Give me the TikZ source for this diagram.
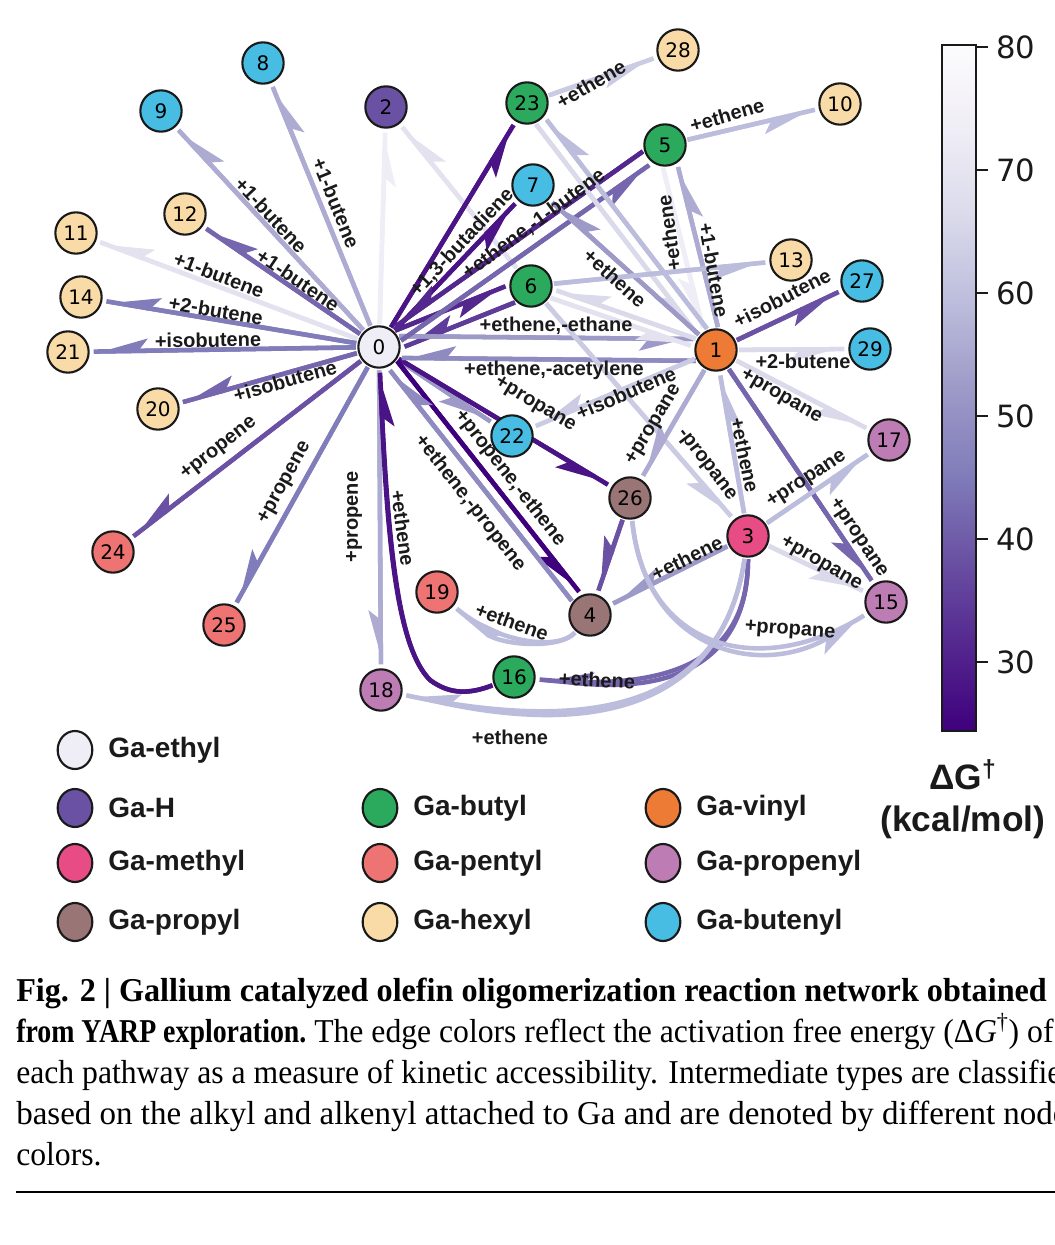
\documentclass[tikz,border=0pt]{standalone}
\usepackage{fontspec}
\setmainfont{Liberation Sans}
\newfontfamily\numfont{DejaVu Sans}
\newfontfamily\capfont{Liberation Serif}[FakeStretch=0.95]
\newfontfamily\capbold{Liberation Serif}[FakeStretch=0.966]
\usetikzlibrary{arrows.meta,shapes.geometric}
\pgfdeclarelayer{bg}
\pgfsetlayers{bg,main}
% edge colours (Purples)
\definecolor{c1}{HTML}{3F007D}
\definecolor{c2}{HTML}{4A1486}
\definecolor{c3}{HTML}{54278F}
\definecolor{c4}{HTML}{5F3C99}
\definecolor{c5}{HTML}{6A51A3}
\definecolor{c6}{HTML}{7566AE}
\definecolor{c7}{HTML}{807DBA}
\definecolor{c8}{HTML}{8F8BC1}
\definecolor{c9}{HTML}{9E9AC8}
\definecolor{c10}{HTML}{ADABD2}
\definecolor{c11}{HTML}{BCBDDC}
\definecolor{c12}{HTML}{CBCBE3}
\definecolor{c13}{HTML}{DADAEB}
\definecolor{c14}{HTML}{E4E2EF}
\definecolor{c15}{HTML}{EFEDF5}
\definecolor{cbtop}{HTML}{FCFBFD}
% node colours
\definecolor{ethyl}{HTML}{EFEDF5}
\definecolor{gah}{HTML}{6A51A3}
\definecolor{methyl}{HTML}{E84C84}
\definecolor{propyl}{HTML}{9A7575}
\definecolor{butyl}{HTML}{2BAA5E}
\definecolor{pentyl}{HTML}{EE7474}
\definecolor{hexyl}{HTML}{F9DBA8}
\definecolor{vinyl}{HTML}{ED7B35}
\definecolor{propenyl}{HTML}{BE7CB4}
\definecolor{butenyl}{HTML}{47BDE4}
\definecolor{ink}{HTML}{1A1A1A}
\pgfdeclareverticalshading{cbar}{100bp}{color(0bp)=(c1); color(25bp)=(c1); color(31.25bp)=(c3); color(37.5bp)=(c5); color(43.75bp)=(c7); color(50bp)=(c9); color(56.25bp)=(c11); color(62.5bp)=(c13); color(68.75bp)=(c15); color(75bp)=(cbtop); color(100bp)=(cbtop)}
\tikzset{
  nd/.style={circle, draw=ink, line width=1.6pt, minimum size=31pt, inner sep=0pt,
    font=\numfont\fontsize{15}{15}\selectfont},
  E/.style={line width=3.4pt, shorten >=3pt, shorten <=1pt},
  A/.style={postaction={draw,-{Stealth[harpoon,swap,length=34pt,width=18pt,inset=7pt]}}},
  lbl/.style={font=\bfseries\fontsize{15}{15}\selectfont, inner sep=0pt, text=ink},
  lg/.style={ellipse, draw=ink, line width=1.6pt, minimum width=26pt, minimum height=28.5pt, inner sep=0pt},
  lgt/.style={anchor=west, font=\bfseries\fontsize{21}{21}\selectfont, inner sep=0pt, text=ink},
  captext/.style={anchor=base west, inner sep=0pt, font=\capfont\fontsize{25}{30}\selectfont},
}
\begin{document}
\begin{tikzpicture}[x=0.75pt,y=-0.75pt]
\useasboundingbox (0,0) rectangle (1055,1245);
% nodes
\node[nd, fill=ethyl] (n0) at (379,347) {0};
\node[nd, fill=vinyl] (n1) at (716,350) {1};
\node[nd, fill=gah] (n2) at (386,107) {2};
\node[nd, fill=methyl] (n3) at (748,536) {3};
\node[nd, fill=propyl] (n4) at (590,615) {4};
\node[nd, fill=butyl] (n5) at (665,145) {5};
\node[nd, fill=butyl] (n6) at (531,286) {6};
\node[nd, fill=butenyl] (n7) at (533,185) {7};
\node[nd, fill=butenyl] (n8) at (263,63) {8};
\node[nd, fill=butenyl] (n9) at (161,111) {9};
\node[nd, fill=hexyl] (n10) at (840,104) {10};
\node[nd, fill=hexyl] (n11) at (76,233) {11};
\node[nd, fill=hexyl] (n12) at (185,214) {12};
\node[nd, fill=hexyl] (n13) at (791,260) {13};
\node[nd, fill=hexyl] (n14) at (81,297) {14};
\node[nd, fill=propenyl] (n15) at (886,602) {15};
\node[nd, fill=butyl] (n16) at (514,677) {16};
\node[nd, fill=propenyl] (n17) at (889,440) {17};
\node[nd, fill=propenyl] (n18) at (381,690) {18};
\node[nd, fill=pentyl] (n19) at (437,592) {19};
\node[nd, fill=hexyl] (n20) at (158,409) {20};
\node[nd, fill=hexyl] (n21) at (68,352) {21};
\node[nd, fill=butenyl] (n22) at (512,436) {22};
\node[nd, fill=butyl] (n23) at (527,103) {23};
\node[nd, fill=pentyl] (n24) at (113,552) {24};
\node[nd, fill=pentyl] (n25) at (224,625) {25};
\node[nd, fill=propyl] (n26) at (630,498) {26};
\node[nd, fill=butenyl] (n27) at (862,281) {27};
\node[nd, fill=hexyl] (n28) at (678,50) {28};
\node[nd, fill=butenyl] (n29) at (870,349) {29};
% edges
\begin{pgfonlayer}{bg}
\draw[E,A,c10] (n0) -- (n8);
\draw[E,A,c10] (n0) -- (n9);
\draw[E,A,c15] (n0) -- (n2);
\draw[E,A,c14] (n6) -- (n2);
\draw[E,A,c6] (n0) -- (n12);
\draw[E,A,c14] (n0) -- (n11);
\draw[E,A,c7] (n0) -- (n14);
\draw[E,A,c7] (n0) -- (n21);
\draw[E,A,c6] (n0) -- (n20);
\draw[E,A,c5] (n0) -- (n24);
\draw[E,A,c7] (n0) -- (n25);
\draw[E,A,c10] (n0) -- (n18);
\draw[E,A,c9] (n0) -- (n22);
\draw[E,A,c2] (n0) -- (n26);
\draw[E,A,c2] (n0) -- (n23);
\draw[E,A,c2] (n0) -- (n7);
\draw[E,A,c1] (n0.-37) -- (n4.113);
\draw[E,A,c8] (n4.143) -- (n0.-67);
\draw[E,A,c3] (n0.47) -- (n6.177);
\draw[E,A,c4] (n6.227) -- (n0.-3);
\draw[E,A,c9] (n0.30) -- (n1.150);
\draw[E,A,c8] (n1.210) -- (n0.-30);
\draw[E,A,c6] (n0.15) -- (n5.235);
\draw[E,A,c3] (n5.195) -- (n0.55);
\draw[E,A,c10] (n1.84) -- (n5.304);
\draw[E,A,c15] (n5.264) -- (n1.124);
\draw[E,A,c13] (n23.-68) -- (n1.142);
\draw[E,A,c11] (n1.112) -- (n23.-38);
\draw[E,A,c9] (n1) -- (n7);
\draw[E,A,c13] (n1.150) -- (n6.-8);
\draw[E,A,c14] (n6.-32) -- (n1.172);
\draw[E,A,c11] (n6) -- (n13);
\draw[E,A,c12] (n1) -- (n22);
\draw[E,A,c12] (n6) -- (n3);
\draw[E,A,c10] (n1) -- (n26);
\draw[E,A,c5] (n26) -- (n4);
\draw[E,A,c5] (n1) -- (n27);
\draw[E,A,c13] (n1) -- (n29);
\draw[E,A,c13] (n1) -- (n17);
\draw[E,A,c6] (n1) -- (n15);
\draw[E,A,c11] (n3) -- (n1);
\draw[E,A,c11] (n3) -- (n17);
\draw[E,A,c13] (n3) -- (n15);
\draw[E,A,c9] (n3) -- (n4);
\draw[E,A,c11] (n5) -- (n10);
\draw[E,A,c12] (n23) -- (n28);
\draw[E,A,c2] (n16) .. controls (470,694) and (450,695) .. (430,680) .. controls (400,650) and (388,560) .. (n0);
\draw[E,A,c6] (n3) .. controls (748,640) and (700,695) .. (n16);
\draw[E,A,c11] (n3) .. controls (725,690) and (620,740) .. (n18);
\draw[E,A,c11] (n26) .. controls (645,650) and (760,680) .. (n15);
\draw[E,A,c11] (n4) .. controls (560,650) and (500,645) .. (n19);
\end{pgfonlayer}
% edge labels
\node[lbl, rotate=-68] (l1) at (336,203) {+1-butene};
\node[lbl, rotate=-47] (l2) at (271,215) {+1-butene};
\node[lbl, rotate=-34] (l3) at (298,280) {+1-butene};
\node[lbl, rotate=-21] (l4) at (219,275) {+1-butene};
\node[lbl, rotate=-9.5] (l5) at (216,310) {+2-butene};
\node[lbl, rotate=1] (l6) at (208,340) {+isobutene};
\node[lbl, rotate=16] (l7) at (285,381) {+isobutene};
\node[lbl, rotate=38] (l8) at (219,449) {+propene};
\node[lbl, rotate=61] (l9) at (285,483) {+propene};
\node[lbl, rotate=90] (l10) at (354,517) {+propene};
\node[lbl, rotate=-82] (l11) at (403,528) {+ethene};
\node[lbl, rotate=-52] (l12) at (470,503) {+ethene,-propene};
\node[lbl, rotate=-52] (l13) at (510,478) {+propene,-ethene};
\node[lbl, rotate=-31] (l14) at (535,405) {+propane};
\node[lbl] (l15) at (554,370) {+ethene,-acetylene};
\node[lbl] (l16) at (556,326) {+ethene,-ethane};
\node[lbl, rotate=46.5] (l17) at (462,243) {+1,3-butadiene};
\node[lbl, rotate=36.5] (l18) at (534,224) {+ethene,-1-butene};
\node[lbl, rotate=-42] (l19) at (615,278) {+ethene};
\node[lbl, rotate=98] (l20) at (669,233) {+ethene};
\node[lbl, rotate=-80] (l21) at (714,270) {+1-butene};
\node[lbl, rotate=27] (l22) at (782,298) {+isobutene};
\node[lbl] (l23) at (803,361) {+2-butene};
\node[lbl, rotate=-30] (l24) at (781,397) {+propane};
\node[lbl, rotate=-56] (l25) at (858,538) {+propane};
\node[lbl, rotate=-78] (l26) at (745,455) {+ethene};
\node[lbl, rotate=-52.5] (l27) at (706,465) {-propane};
\node[lbl, rotate=59] (l28) at (654,425) {+propane};
\node[lbl, rotate=33] (l29) at (807,480) {+propane};
\node[lbl, rotate=-30] (l30) at (821,564) {+propane};
\node[lbl, rotate=26] (l31) at (687,558) {+ethene};
\node[lbl, rotate=-4] (l32) at (790,631) {+propane};
\node[lbl, rotate=-20] (l33) at (512,622) {+ethene};
\node[lbl, rotate=-3] (l34) at (597,680) {+ethene};
\node[lbl] (l35) at (510,737) {+ethene};
\node[lbl, rotate=23] (l36) at (626,393) {+isobutene};
\node[lbl, rotate=16] (l37) at (727,115) {+ethene};
\node[lbl, rotate=30] (l38) at (591,84) {+ethene};
% colour bar
\shade[shading=cbar] (942,45) rectangle (976,731);
\draw[line width=1.6pt, ink] (942,45) rectangle (976,731);
\foreach \v/\y in {80/47,70/170,60/293,50/416,40/539,30/662}{
  \draw[line width=1.4pt, ink] (976,\y) -- (988,\y);
  \node[anchor=west, inner sep=0pt, font=\numfont\fontsize{23}{23}\selectfont, text=ink] (t\v) at (996,\y) {\v};
}
\node[font=\bfseries\fontsize{26.5}{26.5}\selectfont, text=ink, inner sep=0pt] (dg) at (963,775) {ΔG\textsuperscript{†}};
\node[font=\bfseries\fontsize{26.5}{26.5}\selectfont, text=ink, inner sep=0pt] (un) at (963,822) {(kcal/mol)};
% legend
\node[lg, fill=ethyl] (g1) at (75,750) {};   \node[lgt] (g1t) at (108,750) {Ga-ethyl};
\node[lg, fill=gah] (g2) at (75,808) {};     \node[lgt] (g2t) at (108,808) {Ga-H};
\node[lg, fill=methyl] (g3) at (75,863) {};  \node[lgt] (g3t) at (108,863) {Ga-methyl};
\node[lg, fill=propyl] (g4) at (75,922) {};  \node[lgt] (g4t) at (108,922) {Ga-propyl};
\node[lg, fill=butyl] (g5) at (380,808) {};  \node[lgt] (g5t) at (413,808) {Ga-butyl};
\node[lg, fill=pentyl] (g6) at (380,863) {}; \node[lgt] (g6t) at (413,863) {Ga-pentyl};
\node[lg, fill=hexyl] (g7) at (380,922) {};  \node[lgt] (g7t) at (413,922) {Ga-hexyl};
\node[lg, fill=vinyl] (g8) at (663,808) {};  \node[lgt] (g8t) at (696,808) {Ga-vinyl};
\node[lg, fill=propenyl] (g9) at (663,863) {}; \node[lgt] (g9t) at (696,863) {Ga-propenyl};
\node[lg, fill=butenyl] (g10) at (663,922) {}; \node[lgt] (g10t) at (696,922) {Ga-butenyl};
% caption
\begin{scope}
\clip (0,0) rectangle (1055,1245);
\node[captext] (cp1) at (16,1001) {\capbold\bfseries Fig. 2 | Gallium catalyzed olefin oligomerization reaction network obtained};
\node[captext] (cp2) at (16,1042) {\scalebox{0.865}[1]{\capbold\bfseries from YARP exploration.} The edge colors reflect the activation free energy (Δ\textit{G}\textsuperscript{†}) of};
\node[captext] (cp3) at (16,1083) {each pathway as a measure of kinetic accessibility. Intermediate types are classified};
\node[captext] (cp4) at (16,1124) {\scalebox{1.042}[1]{based on the alkyl and alkenyl attached to Ga and are denoted by different node}};
\node[captext] (cp5) at (16,1165) {colors.};
\draw[line width=2pt] (16,1192) -- (1060,1192);
\end{scope}
\end{tikzpicture}
\end{document}
